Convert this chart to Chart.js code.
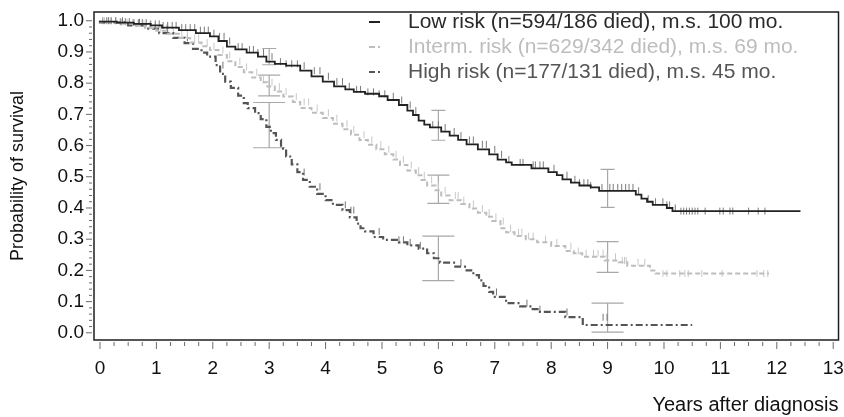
<!DOCTYPE html>
<html>
<head>
<meta charset="utf-8">
<script src="https://cdn.jsdelivr.net/npm/chart.js@4.4.1/dist/chart.umd.min.js"></script>
<style>
    html, body { margin: 0; padding: 0; background: #fff; }
</style>
</head>
<body>
<canvas id="canvaSupervivencia" width="844" height="417"></canvas>
<script>
// curvas de Kaplan-Meier (tiempo en años, supervivencia)
const tiemposBajo = [0, 0.3, 0.6, 0.9, 1.1, 1.4, 1.7, 1.95, 2.1, 2.25, 2.4, 2.6, 2.8, 2.95, 3.1, 3.3, 3.55, 3.75, 3.95, 4.15, 4.35, 4.5, 4.7, 4.95, 5.1, 5.3, 5.45, 5.55, 5.65, 5.75, 5.85, 6.05, 6.2, 6.35, 6.5, 6.7, 6.9, 7.05, 7.2, 7.3, 7.65, 7.95, 8.1, 8.2, 8.35, 8.5, 8.7, 8.85, 9.5, 9.6, 9.7, 9.8, 10.05, 10.15, 10.25, 12.42];
const survBajo = [1.0, 0.997, 0.994, 0.99, 0.985, 0.978, 0.97, 0.96, 0.95, 0.935, 0.917, 0.908, 0.898, 0.885, 0.869, 0.862, 0.856, 0.84, 0.822, 0.805, 0.79, 0.78, 0.772, 0.766, 0.758, 0.746, 0.73, 0.712, 0.698, 0.68, 0.667, 0.658, 0.645, 0.632, 0.618, 0.604, 0.588, 0.572, 0.555, 0.546, 0.538, 0.527, 0.515, 0.505, 0.492, 0.481, 0.472, 0.466, 0.455, 0.443, 0.43, 0.42, 0.41, 0.4, 0.39, 0.39];

const tiemposInter = [0, 0.35, 0.6, 0.8, 1.0, 1.2, 1.4, 1.6, 1.8, 1.95, 2.1, 2.25, 2.4, 2.55, 2.7, 2.85, 2.97, 3.1, 3.25, 3.42, 3.55, 3.75, 3.95, 4.13, 4.3, 4.45, 4.6, 4.75, 4.9, 5.05, 5.2, 5.32, 5.45, 5.6, 5.7, 5.8, 5.95, 6.05, 6.2, 6.4, 6.55, 6.7, 6.85, 6.95, 7.1, 7.2, 7.35, 7.55, 7.75, 8.0, 8.25, 8.4, 8.55, 8.95, 9.2, 9.35, 9.75, 9.85, 9.93, 11.86];
const survInter = [1.0, 0.995, 0.99, 0.985, 0.977, 0.968, 0.958, 0.945, 0.93, 0.918, 0.906, 0.89, 0.87, 0.852, 0.835, 0.818, 0.803, 0.789, 0.773, 0.757, 0.74, 0.72, 0.705, 0.688, 0.67, 0.652, 0.635, 0.618, 0.603, 0.588, 0.572, 0.555, 0.538, 0.52, 0.505, 0.49, 0.472, 0.457, 0.44, 0.425, 0.413, 0.398, 0.385, 0.372, 0.358, 0.335, 0.322, 0.31, 0.3, 0.29, 0.278, 0.262, 0.255, 0.244, 0.232, 0.226, 0.215, 0.2, 0.19, 0.19];

const tiemposAlto = [0, 0.5, 0.8, 1.05, 1.3, 1.5, 1.65, 1.8, 1.9, 2.05, 2.13, 2.22, 2.32, 2.45, 2.55, 2.62, 2.75, 2.85, 2.95, 3.03, 3.12, 3.21, 3.3, 3.4, 3.5, 3.6, 3.72, 3.85, 4.0, 4.13, 4.3, 4.43, 4.55, 4.62, 4.7, 4.85, 5.02, 5.3, 5.45, 5.65, 5.8, 5.92, 6.03, 6.3, 6.5, 6.62, 6.72, 6.8, 6.9, 6.97, 7.2, 7.45, 7.65, 7.8, 8.25, 8.56, 10.15, 10.5];
const survAlto = [1.0, 0.995, 0.985, 0.975, 0.96, 0.945, 0.928, 0.91, 0.898, 0.885, 0.858, 0.83, 0.805, 0.785, 0.76, 0.736, 0.72, 0.704, 0.685, 0.66, 0.64, 0.618, 0.59, 0.565, 0.54, 0.515, 0.49, 0.468, 0.445, 0.425, 0.41, 0.393, 0.37, 0.35, 0.335, 0.325, 0.307, 0.298, 0.29, 0.28, 0.27, 0.255, 0.239, 0.225, 0.212, 0.2, 0.185, 0.168, 0.15, 0.131, 0.115, 0.095, 0.085, 0.076, 0.067, 0.05, 0.025, 0.025];

// tiempos de las marcas de censura
const censBajo = [0.05, 0.12, 0.2, 0.28, 0.36, 0.45, 0.52, 0.6, 0.68, 0.75, 0.82, 0.9, 0.98, 1.05, 1.12, 1.2, 1.28, 1.35, 1.45, 1.52, 1.6, 1.68, 1.78, 1.85, 1.92, 2.02, 2.12, 2.2, 2.3, 2.45, 2.52, 2.65, 2.72, 2.8, 2.9, 3.05, 3.2, 3.3, 3.4, 3.5, 3.62, 3.8, 3.9, 4.05, 4.2, 4.3, 4.42, 4.55, 4.62, 4.75, 4.85, 4.95, 5.05, 5.2, 5.35, 5.5, 5.6, 5.9, 6.0, 6.12, 6.28, 6.4, 6.55, 6.62, 6.78, 6.85, 7.0, 7.12, 7.25, 7.45, 7.5, 7.68, 7.72, 7.8, 7.86, 8.05, 8.28, 8.42, 8.5, 8.58, 8.65, 8.7, 8.9, 9.04, 9.1, 9.18, 9.25, 9.32, 9.38, 9.45, 9.55, 9.72, 9.85, 9.98, 10.05, 10.1, 10.2, 10.3, 10.35, 10.4, 10.45, 10.5, 10.55, 10.6, 10.73, 10.99, 11.05, 11.17, 11.22, 11.5, 11.67, 11.79];
const censInter = [0.08, 0.18, 0.28, 0.38, 0.48, 0.58, 0.68, 0.78, 0.88, 0.98, 1.08, 1.18, 1.3, 1.45, 1.55, 1.68, 1.75, 1.9, 2.02, 2.18, 2.3, 2.48, 2.6, 2.78, 2.9, 3.05, 3.18, 3.3, 3.48, 3.62, 3.7, 3.85, 4.05, 4.2, 4.38, 4.5, 4.68, 4.82, 4.98, 5.12, 5.25, 5.38, 5.52, 5.65, 5.75, 5.88, 6.0, 6.12, 6.3, 6.35, 6.45, 6.62, 6.78, 6.9, 7.02, 7.15, 7.28, 7.42, 7.48, 7.6, 7.68, 7.9, 8.1, 8.35, 8.48, 8.62, 8.75, 8.83, 8.92, 8.99, 9.14, 9.26, 9.3, 9.33, 9.54, 9.66, 9.98, 10.05, 10.28, 10.37, 10.43, 10.67, 11.03, 11.65, 11.77, 11.84];
const censAlto = [0.15, 0.4, 0.7, 1.2, 1.55, 2.18, 3.62, 3.9, 4.35, 4.45, 4.5, 4.95, 5.3, 5.38, 5.5, 5.68, 6.4, 7.03, 7.57, 7.8, 8.28, 8.92, 8.99];

// intervalos de confianza a los 3, 6 y 9 años
const tiemposIC = [3, 6, 9];
const icBajoInf = [0.859, 0.617, 0.402];
const icBajoSup = [0.911, 0.713, 0.524];
const icInterInf = [0.759, 0.415, 0.194];
const icInterSup = [0.826, 0.505, 0.292];
const icAltoInf = [0.593, 0.167, 0.002];
const icAltoSup = [0.738, 0.31, 0.095];

const ticksX = [0, 1, 2, 3, 4, 5, 6, 7, 8, 9, 10, 11, 12, 13];
const ticksY = [0, 0.1, 0.2, 0.3, 0.4, 0.5, 0.6, 0.7, 0.8, 0.9, 1.0];

const leyendas = [
    "Low risk (n=594/186 died), m.s. 100 mo.",
    "Interm. risk (n=629/342 died), m.s. 69 mo.",
    "High risk (n=177/131 died), m.s. 45 mo."
];

const fuente = '"Liberation Sans", Arial, sans-serif';

function curva(tiempos, valores) {
    return tiempos.map((t, i) => ({ x: t, y: valores[i] }));
}

// busca el valor de la escalera en el tiempo t
function valorEn(tiempos, valores, t) {
    let v = valores[0];
    for (let i = 0; i < tiempos.length; i++) {
        if (tiempos[i] <= t) v = valores[i];
    }
    return v;
}

function marcas(cens, tiempos, valores) {
    return cens.map(t => ({ x: t, y: valorEn(tiempos, valores, t) }));
}

const grupos = [
    { color: '#222222', colorMarca: '#7a7a7a', colorTexto: '#2a2a2a', dash: [], ancho: 1.8, capa: 14, icInf: icBajoInf, icSup: icBajoSup },
    { color: '#bdbdbd', colorMarca: '#c8c8c8', colorTexto: '#bdbdbd', dash: [5, 3], ancho: 2, capa: 22, icInf: icInterInf, icSup: icInterSup },
    { color: '#555555', colorMarca: '#777777', colorTexto: '#555555', dash: [7, 3, 2, 3], ancho: 2.2, capa: 32, icInf: icAltoInf, icSup: icAltoSup }
];

// barras de error, dibujadas debajo de las curvas
const pluginIC = {
    id: 'pluginIC',
    beforeDatasetsDraw(chart) {
        const { ctx, scales: { x, y } } = chart;
        ctx.save();
        ctx.strokeStyle = '#a8a8a8';
        ctx.lineWidth = 1.2;
        grupos.forEach(g => {
            tiemposIC.forEach((t, i) => {
                const px = x.getPixelForValue(t);
                const y1 = y.getPixelForValue(g.icInf[i]);
                const y2 = y.getPixelForValue(g.icSup[i]);
                ctx.beginPath();
                ctx.moveTo(px, y1); ctx.lineTo(px, y2);
                ctx.moveTo(px - g.capa / 2, y1); ctx.lineTo(px + g.capa / 2, y1);
                ctx.moveTo(px - g.capa / 2, y2); ctx.lineTo(px + g.capa / 2, y2);
                ctx.stroke();
            });
        });
        ctx.restore();
    }
};

// marco, ticks mayores y menores, leyenda
const pluginMarco = {
    id: 'pluginMarco',
    afterDraw(chart) {
        const { ctx, chartArea: a, scales: { x, y } } = chart;
        ctx.save();
        ctx.strokeStyle = '#1e1e1e';
        ctx.lineWidth = 1.5;
        ctx.strokeRect(a.left, a.top, a.right - a.left, a.bottom - a.top);

        ctx.strokeStyle = '#6a6a6a';
        ctx.lineWidth = 1;
        ctx.beginPath();
        for (let i = 0; i < ticksX.length; i++) {
            const px = x.getPixelForValue(ticksX[i]);
            ctx.moveTo(px, a.bottom + 2); ctx.lineTo(px, a.bottom + 9);
            if (i < ticksX.length - 1) {
                for (let k = 1; k < 4; k++) {
                    const pm = x.getPixelForValue(ticksX[i] + (ticksX[i + 1] - ticksX[i]) * k / 4);
                    ctx.moveTo(pm, a.bottom + 2); ctx.lineTo(pm, a.bottom + 6);
                }
            }
        }
        for (let i = 0; i < ticksY.length; i++) {
            const py = y.getPixelForValue(ticksY[i]);
            ctx.moveTo(a.left - 8, py); ctx.lineTo(a.left - 2, py);
            if (i < ticksY.length - 1) {
                for (let k = 1; k < 5; k++) {
                    const pm = y.getPixelForValue(ticksY[i] + (ticksY[i + 1] - ticksY[i]) * k / 5);
                    ctx.moveTo(a.left - 5, pm); ctx.lineTo(a.left - 2, pm);
                }
            }
        }
        ctx.stroke();

        // leyenda dentro del area del grafico
        ctx.font = '21px ' + fuente;
        ctx.textBaseline = 'middle';
        ctx.textAlign = 'left';
        leyendas.forEach((texto, i) => {
            const g = grupos[i];
            const py = 22 + i * 25;
            ctx.strokeStyle = g.color;
            ctx.lineWidth = 2;
            ctx.setLineDash([]);
            ctx.beginPath();
            if (i === 0) {
                ctx.moveTo(369, py); ctx.lineTo(380, py);
            } else {
                ctx.moveTo(369, py); ctx.lineTo(375, py);
                ctx.moveTo(378, py); ctx.lineTo(380, py);
            }
            ctx.stroke();
            ctx.fillStyle = g.colorTexto;
            ctx.fillText(texto, 408, py);
        });
        ctx.restore();
    }
};

const datasets = [];
[[tiemposBajo, survBajo], [tiemposInter, survInter], [tiemposAlto, survAlto]].forEach((par, i) => {
    const g = grupos[i];
    datasets.push({
        label: leyendas[i],
        data: curva(par[0], par[1]),
        stepped: 'after',
        borderColor: g.color,
        borderWidth: g.ancho,
        borderDash: g.dash,
        pointRadius: 0,
        fill: false
    });
});
[[censBajo, tiemposBajo, survBajo], [censInter, tiemposInter, survInter], [censAlto, tiemposAlto, survAlto]].forEach((tr, i) => {
    datasets.push({
        label: '',
        data: marcas(tr[0], tr[1], tr[2]),
        showLine: false,
        pointStyle: 'line',
        rotation: 90,
        pointRadius: 3.5,
        borderColor: grupos[i].colorMarca,
        borderWidth: 1
    });
});

new Chart(document.getElementById('canvaSupervivencia'), {
    type: 'line',
    data: { datasets: datasets },
    options: {
        responsive: false,
        animation: false,
        layout: { padding: { top: 12, right: 5.5, left: 0, bottom: 0 } },
        plugins: {
            legend: { display: false },
            tooltip: { enabled: false }
        },
        scales: {
            x: {
                type: 'linear',
                min: -0.106,
                max: 13.094,
                afterBuildTicks: s => { s.ticks = ticksX.map(v => ({ value: v })); },
                afterFit: s => { s.height = 77; s.paddingLeft = 0; s.paddingRight = 0; },
                grid: { display: false, drawTicks: false },
                border: { display: false },
                ticks: {
                    padding: 17, maxRotation: 0, autoSkip: false, color: '#111',
                    font: { family: fuente, size: 19 },
                    callback: v => String(v)
                },
                title: {
                    display: true, text: 'Years after diagnosis', align: 'end', color: '#111',
                    font: { family: fuente, size: 20 }, padding: { top: 0, bottom: 0 }
                }
            },
            y: {
                type: 'linear',
                min: -0.023,
                max: 1.028,
                afterBuildTicks: s => { s.ticks = ticksY.map(v => ({ value: v })); },
                afterFit: s => { s.width = 94; s.paddingTop = 0; s.paddingBottom = 0; },
                grid: { display: false, drawTicks: false },
                border: { display: false },
                ticks: {
                    padding: 10, color: '#111',
                    font: { family: fuente, size: 19 },
                    callback: v => v.toFixed(1)
                },
                title: {
                    display: true, text: 'Probability of survival', color: '#111',
                    font: { family: fuente, size: 18 }, padding: { top: 7, bottom: 0 }
                }
            }
        }
    },
    plugins: [pluginIC, pluginMarco]
});
</script>
</body>
</html>
